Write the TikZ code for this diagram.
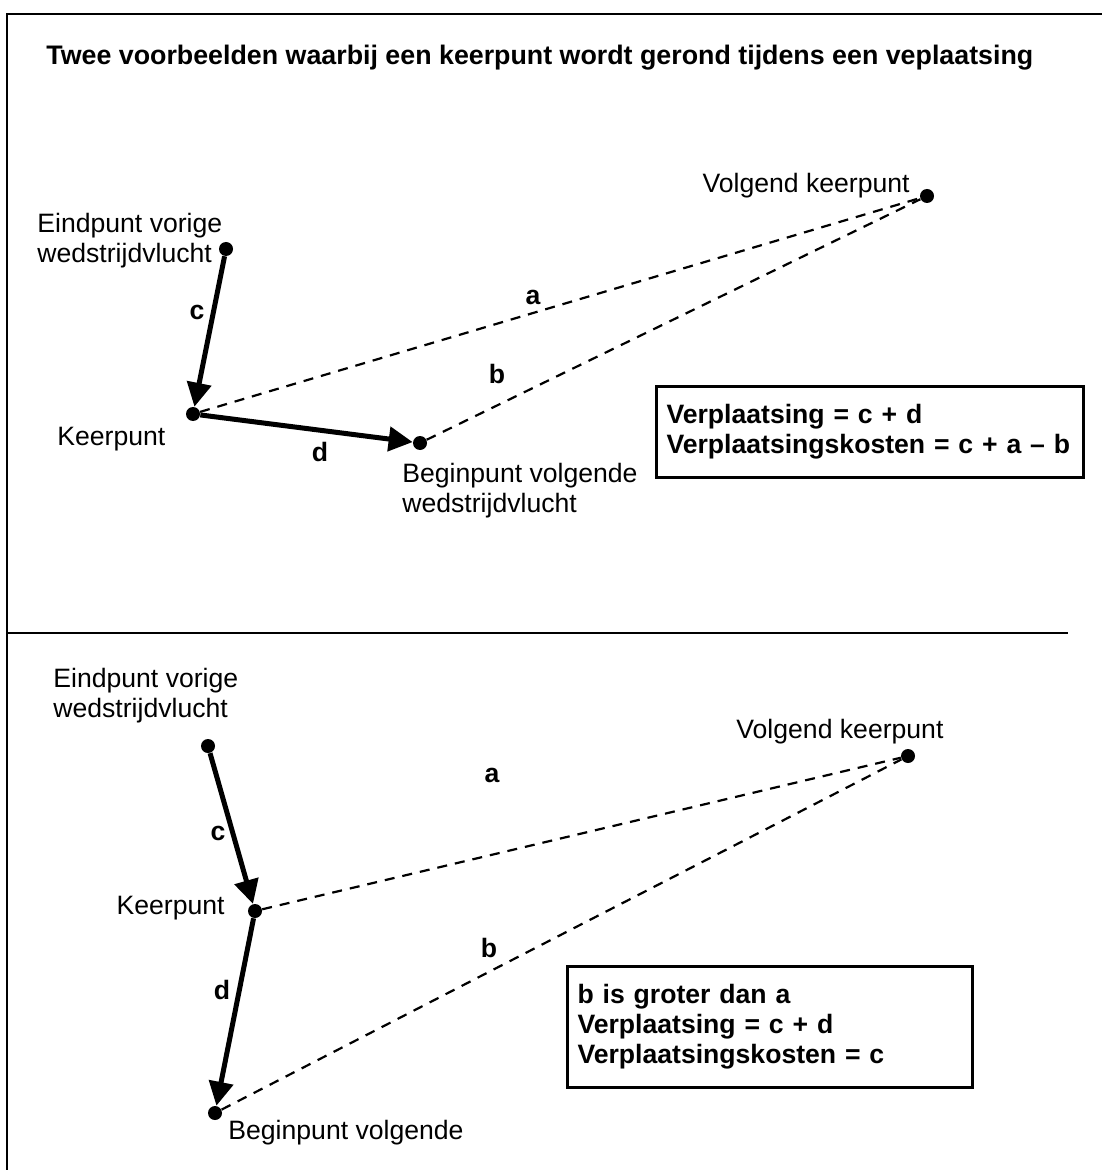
\documentclass[tikz,border=0pt]{standalone}
\usepackage{fontspec}
\setmainfont{Liberation Sans}
\usetikzlibrary{arrows.meta,positioning}

\begin{document}
\begin{tikzpicture}[x=0.5pt, y=-0.5pt,
    punt/.style = {circle, fill=black, inner sep=0pt, minimum size=7pt},
    tekst/.style = {inner sep=0pt, font=\fontsize{13.3pt}{15pt}\selectfont},
    letter/.style = {tekst, font=\fontsize{13.3pt}{15pt}\selectfont\bfseries},
    verpl/.style = {line width=2.5pt, -{Triangle[length=12pt, width=12pt]}},
    afstand/.style = {line width=1.1pt, dash pattern=on 5pt off 4pt},
    kader/.style = {draw, line width=1.5pt, anchor=north west, inner xsep=5pt,
      align=left, font=\fontsize{13.3pt}{15pt}\selectfont\bfseries}]
    \useasboundingbox (0,0) rectangle (1102,1170);

    % frame and separator
    \draw[line width=1.2pt] (7,1170) -- (7,14) -- (1102,14);
    \coordinate (scheidL) at (7,633);
    \coordinate (scheidR) at (1068,633);
    \draw[line width=1pt] (scheidL) -- (scheidR);

    \node[tekst, anchor=west, font=\fontsize{13.4pt}{15pt}\selectfont\bfseries] (titel) at (46,58)
      {Twee voorbeelden waarbij een keerpunt wordt gerond tijdens een veplaatsing};

    % ---- first example
    \node[punt] (eind1) at (226,249) {};
    \node[punt] (keer1) at (193,414) {};
    \node[punt] (begin1) at (420,443) {};
    \node[punt] (volg1) at (927,196) {};

    \node[tekst, align=left, anchor=west] (eind1lbl) at (37,241) {Eindpunt vorige\\wedstrijdvlucht};
    \node[tekst, anchor=west] (keer1lbl) at (57,439) {Keerpunt};
    \node[tekst, align=left, anchor=west] (begin1lbl) at (402,491) {Beginpunt volgende\\wedstrijdvlucht};
    \node[tekst, anchor=east] (volg1lbl) at (910,186) {Volgend keerpunt};

    \draw[afstand] (keer1) -- (volg1);
    \draw[afstand] (begin1) -- (volg1);
    \draw[verpl] (eind1) -- (keer1);
    \draw[verpl] (keer1) -- (begin1);

    \node[letter] (c1) at (197,312) {c};
    \node[letter] (a1) at (533,297) {a};
    \node[letter] (b1) at (497,374) {b};
    \node[letter] (d1) at (320,452) {d};

    \node[kader, minimum width=213.5pt, minimum height=45.5pt, text width=203.5pt] (som1) at (655,385)
      {Verplaatsing = c + d\\Verplaatsingskosten = c + a -- b};

    % ---- second example
    \node[punt] (eind2) at (208,746) {};
    \node[punt] (keer2) at (255,911) {};
    \node[punt] (begin2) at (215,1113) {};
    \node[punt] (volg2) at (908,756) {};

    \node[tekst, align=left, anchor=west] (eind2lbl) at (53,696) {Eindpunt vorige\\wedstrijdvlucht};
    \node[tekst, anchor=east] (keer2lbl) at (225,908) {Keerpunt};
    \node[tekst, anchor=west] (begin2lbl) at (228,1133) {Beginpunt volgende};
    \node[tekst, anchor=west] (volg2lbl) at (736,732) {Volgend keerpunt};

    \draw[afstand] (keer2) -- (volg2);
    \draw[afstand] (begin2) -- (volg2);
    \draw[verpl] (eind2) -- (keer2);
    \draw[verpl] (keer2) -- (begin2);

    \node[letter] (c2) at (218,833) {c};
    \node[letter] (a2) at (492,775) {a};
    \node[letter] (b2) at (489,948) {b};
    \node[letter] (d2) at (222,990) {d};

    \node[kader, minimum width=202.5pt, minimum height=60.5pt, text width=192.5pt] (som2) at (566,965)
      {b is groter dan a\\Verplaatsing = c + d\\Verplaatsingskosten = c};
\end{tikzpicture}
\end{document}
